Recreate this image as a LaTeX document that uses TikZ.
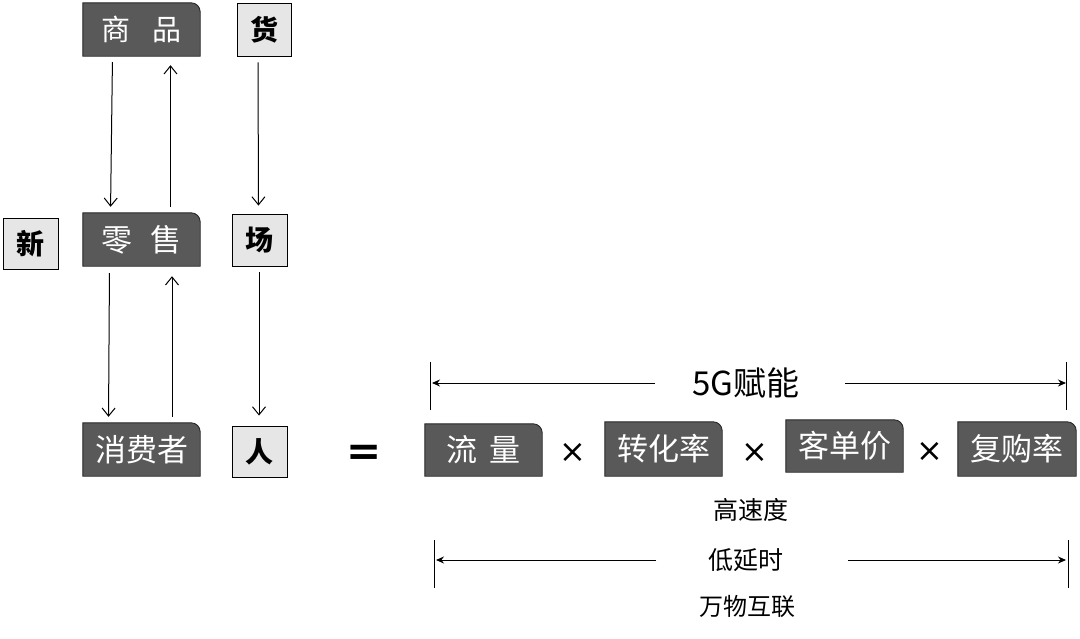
\documentclass[tikz,border=0pt]{standalone}
\usepackage{fontspec}
\setmainfont{Noto Sans CJK SC}
\newfontfamily\djv{DejaVu Sans}
\usetikzlibrary{arrows.meta,backgrounds}
\definecolor{darkbox}{HTML}{595959}
\definecolor{lightbox}{HTML}{E6E6E6}
\newcommand\darkshape[1]{\fill[darkbox,draw=black!85,line width=0.9pt] (#1.south west) -- (#1.north west) -- ([xshift=-9pt]#1.north east) arc[start angle=90,end angle=0,radius=9pt] -- (#1.south east) -- cycle;}
\tikzset{
  dbox/.style={minimum width=117pt,minimum height=53pt,inner sep=0pt,text=white,font=\fontsize{31}{31}\selectfont},
  lbox/.style={draw=black,line width=0.9pt,fill=lightbox,minimum width=54pt,minimum height=52pt,inner sep=0pt,font=\fontsize{28}{28}\selectfont\bfseries},
  varr/.style={-{Straight Barb[length=8pt,width=13pt]},line width=1pt},
  harr/.style={-{Stealth[length=8pt,width=7pt]},line width=1pt},
  bar/.style={line width=1pt},
  times/.style={font=\djv\fontsize{32}{32}\selectfont},
  lab/.style={font=\fontsize{25}{25}\selectfont},
}
\begin{document}
\begin{tikzpicture}[x=1pt,y=1pt]
\useasboundingbox (0,0) rectangle (1080,-638);
% dark boxes
\node[dbox] (sp) at (141.5,-29.5) {\fontsize{29}{29}\selectfont 商\hspace{22pt}品};
\node[dbox] (ls) at (141.5,-239.5) {零\hspace{18pt}售};
\node[dbox] (xfz) at (141.5,-449.5) {消费者};
\node[dbox,minimum height=52pt] (ll) at (483.5,-450) {流\hspace{12pt}量};
\node[dbox,minimum height=54pt] (zhl) at (663.5,-449) {转化率};
\node[dbox,minimum height=52pt] (kdj) at (844.5,-446) {客单价};
\node[dbox,minimum width=118pt,minimum height=54pt] (fgl) at (1017,-449) {复购率};
\begin{scope}[on background layer]
\darkshape{sp}\darkshape{ls}\darkshape{xfz}\darkshape{ll}\darkshape{zhl}\darkshape{kdj}\darkshape{fgl}
\end{scope}
% light boxes
\node[lbox,minimum height=53pt] (huo) at (264,-29.5) {货};
\node[lbox,minimum width=55pt,minimum height=51pt] (xin) at (30.5,-243.5) {新};
\node[lbox,minimum width=55pt] (chang) at (259.5,-240) {场};
\node[lbox,minimum width=55pt,minimum height=51pt] (ren) at (259.5,-451.5) {人};
% operators
\node[font=\djv\bfseries\fontsize{42}{42}\selectfont] (eq) at (364,-455) {=};
\node[times] (x1) at (573,-453) {×};
\node[times] (x2) at (755,-453) {×};
\node[times] (x3) at (930,-452) {×};
% vertical arrows
\draw[varr,shorten <=6pt,shorten >=6pt] ([xshift=-29pt]sp.south) -- ([xshift=-31pt]ls.north);
\draw[varr,shorten <=6pt,shorten >=9pt] ([xshift=29pt]ls.north) -- ([xshift=29pt]sp.south);
\draw[varr,shorten <=6pt,shorten >=8pt] ([xshift=-6pt]huo.south) -- ([xshift=-1pt]chang.north);
\draw[varr,shorten <=7pt,shorten >=6pt] ([xshift=-32pt]ls.south) -- ([xshift=-33pt]xfz.north);
\draw[varr,shorten <=6pt,shorten >=10pt] ([xshift=30.5pt]xfz.north) -- ([xshift=30.5pt]ls.south);
\draw[varr,shorten <=6pt,shorten >=10pt] ([xshift=-0.5pt]chang.south) -- ([xshift=-0.5pt]ren.north);
% 5G row
\node[font=\fontsize{33}{33}\selectfont] (g5) at (746,-383) {5G赋能};
\coordinate (a1s) at (655,-383);
\coordinate (a1e) at (432,-383);
\coordinate (a2s) at (845,-383);
\coordinate (a2e) at (1066,-383);
\coordinate (b1t) at (430,-362);
\coordinate (b1b) at (430,-410);
\coordinate (b2t) at (1066,-362);
\coordinate (b2b) at (1066,-410);
\draw[harr] (a1s) -- (a1e);
\draw[harr] (a2s) -- (a2e);
\draw[bar] (b1t) -- (b1b);
\draw[bar] (b2t) -- (b2b);
% bottom labels
\node[lab] (gsd) at (751,-510) {高速度};
\node[lab] (dys) at (746,-560) {低延时};
\node[lab,font=\fontsize{24}{24}\selectfont] (wwhl) at (747,-606) {万物互联};
\coordinate (c1s) at (656,-560);
\coordinate (c1e) at (436,-560);
\coordinate (c2s) at (848,-560);
\coordinate (c2e) at (1066,-560);
\coordinate (d1t) at (434,-540);
\coordinate (d1b) at (434,-588);
\coordinate (d2t) at (1068,-540);
\coordinate (d2b) at (1068,-588);
\draw[harr] (c1s) -- (c1e);
\draw[harr] (c2s) -- (c2e);
\draw[bar] (d1t) -- (d1b);
\draw[bar] (d2t) -- (d2b);
\end{tikzpicture}
\end{document}
